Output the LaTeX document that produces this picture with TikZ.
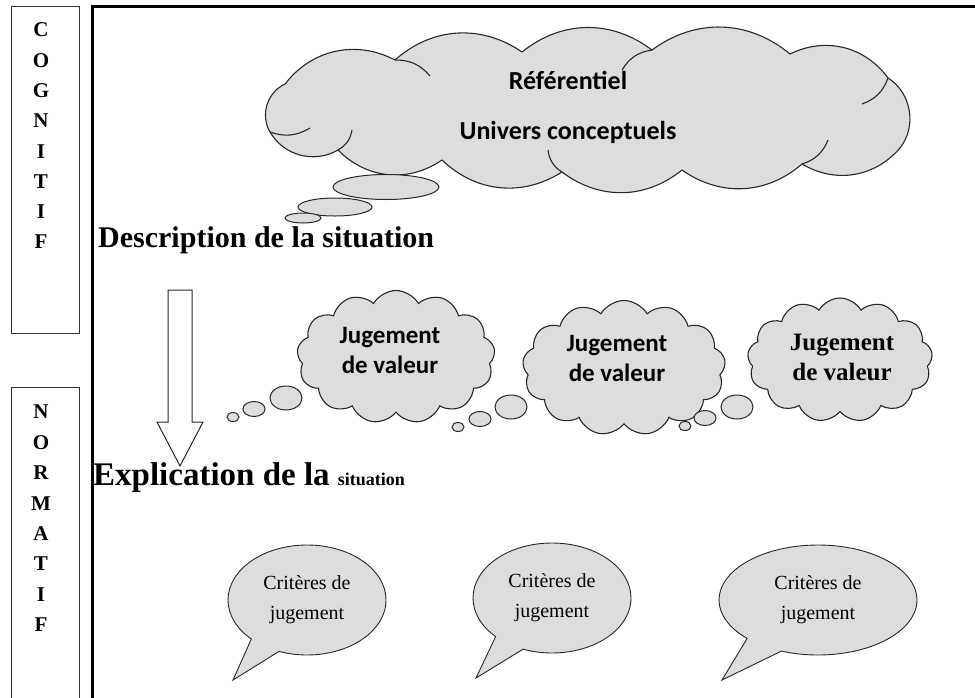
\documentclass[tikz,border=0pt]{standalone}
\usepackage{fontspec}
\setmainfont{Liberation Serif}
\newfontfamily\calfont{Carlito}
\usetikzlibrary{shapes.symbols,shapes.callouts,shapes.geometric}
\definecolor{cloudfill}{RGB}{221,221,221}
\definecolor{edgecol}{RGB}{40,40,40}
\begin{document}
\begin{tikzpicture}[x=1pt,y=-1pt,
  cloudshape/.style={cloud, draw=edgecol, fill=cloudfill, line width=1.1pt, cloud ignores aspect, inner sep=0pt},
  cloudpath/.style={draw=edgecol, fill=cloudfill, line width=1.1pt, line join=round},
  innerarc/.style={draw=edgecol, line width=1.1pt},
  bubble/.style={ellipse, draw=edgecol, fill=cloudfill, line width=1pt, inner sep=0pt},
  callbox/.style={ellipse callout, draw=edgecol, fill=cloudfill, line width=0.9pt, minimum width=158pt, minimum height=110pt, callout pointer arc=24, align=center, font=\fontsize{20}{30}\selectfont, text=black},
  letter/.style={font=\bfseries\fontsize{21}{21}\selectfont, inner sep=0pt},
  sidebox/.style={draw=black!80, line width=1pt, inner sep=0pt},
  jug/.style={font=\calfont\bfseries\fontsize{25}{30}\selectfont, align=center},
  jugserif/.style={font=\bfseries\fontsize{25}{30}\selectfont, align=center},
  reftext/.style={font=\calfont\bfseries\fontsize{26}{26}\selectfont},
  heading/.style={font=\bfseries\fontsize{30}{30}\selectfont, anchor=west, inner sep=0pt},
]
\useasboundingbox (0,0) rectangle (975,697);
\fill[white] (0,0) rectangle (975,697);

% side boxes
\node[sidebox, minimum width=68pt, minimum height=327pt, anchor=north west] (cogbox) at (11,6) {};
\node[sidebox, minimum width=68pt, minimum height=320pt, anchor=north west] (normbox) at (11,387) {};
\foreach \l [count=\i] in {C,O,G,N,I,T,I,F}
  \node[letter] (cog\i) at (41,{30+30.3*(\i-1)}) {\l};
\foreach \l [count=\i] in {N,O,R,M,A,T,I,F}
  \node[letter] (norm\i) at (41,{412+30.4*(\i-1)}) {\l};

% main frame
\draw[line width=3pt] (92,700) -- (92,6) -- (980,6);

% top cloud (custom outline)
\coordinate (J1) at (270,132);
\coordinate (J2) at (285,84);
\coordinate (J3) at (395,60);
\coordinate (J4) at (522,52);
\coordinate (J5) at (652,50);
\coordinate (J6) at (790,54);
\coordinate (J7) at (888,78);
\coordinate (J8) at (900,148);
\coordinate (J9) at (802,164);
\coordinate (J10) at (682,170);
\coordinate (J11) at (562,172);
\coordinate (J12) at (442,160);
\coordinate (J13) at (338,150);
\path[cloudpath] (J1) to[bend left=48] (J2) to[bend left=40] (J3) to[bend left=38] (J4)
  to[bend left=38] (J5) to[bend left=38] (J6) to[bend left=40] (J7) to[bend left=48] (J8)
  to[bend left=40] (J9) to[bend left=38] (J10) to[bend left=38] (J11) to[bend left=38] (J12)
  to[bend left=40] (J13) to[bend left=45] (J1) -- cycle;
\draw[innerarc] (J1) to[bend right=25] (310,128);
\draw[innerarc] (J3) to[bend left=25] (430,76);
\draw[innerarc] (J5) to[bend right=25] (622,70);
\draw[innerarc] (J7) to[bend left=25] (862,104);
\draw[innerarc] (J9) to[bend right=25] (828,140);
\draw[innerarc] (J11) to[bend left=25] (548,150);
\draw[innerarc] (J13) to[bend right=25] (352,130);
\node[reftext] (reft) at (568,80) {Référentiel};
\node[reftext] (univ) at (568,132) {Univers conceptuels};
\node[bubble, minimum width=106pt, minimum height=25pt] (tb1) at (386,187) {};
\node[bubble, minimum width=74pt, minimum height=18pt] (tb2) at (335,207) {};
\node[bubble, minimum width=36pt, minimum height=10pt] (tb3) at (303,218) {};

% headings
\node[heading] (desc) at (98,240) {Description de la situation};
\node[heading, font=\bfseries\fontsize{33}{33}\selectfont] (expl) at (93,478) {Explication de la {\fontsize{18}{18}\selectfont situation}};

% block arrow
\draw[draw=edgecol, line width=1pt, fill=white] (168,290) -- (192,290) -- (192,422) -- (203,422) -- (180,466) -- (157,422) -- (168,422) -- cycle;

% middle clouds
\node[cloudshape, cloud puffs=13, cloud puff arc=120, minimum width=198pt, minimum height=133pt] (c1) at (396,357) {};
\node[jug] (j1) at (390,350) {Jugement\\de valeur};
\node[bubble, minimum width=12pt, minimum height=9pt] (c1a) at (233,417) {};
\node[bubble, minimum width=22pt, minimum height=15pt] (c1b) at (254,409) {};
\node[bubble, minimum width=32pt, minimum height=24pt] (c1c) at (286,398) {};

\node[cloudshape, cloud puffs=13, cloud puff arc=120, minimum width=203pt, minimum height=135pt] (c2) at (624,368) {};
\node[jug] (j2) at (617,358) {Jugement\\de valeur};
\node[bubble, minimum width=12pt, minimum height=9pt] (c2a) at (458,427) {};
\node[bubble, minimum width=22pt, minimum height=15pt] (c2b) at (480,419) {};
\node[bubble, minimum width=32pt, minimum height=24pt] (c2c) at (511,407) {};

\node[cloudshape, cloud puffs=13, cloud puff arc=120, minimum width=185pt, minimum height=124pt] (c3) at (840,360) {};
\node[jugserif] (j3) at (842,357) {Jugement\\de valeur};
\node[bubble, minimum width=12pt, minimum height=9pt] (c3a) at (685,426) {};
\node[bubble, minimum width=22pt, minimum height=15pt] (c3b) at (705,418) {};
\node[bubble, minimum width=32pt, minimum height=24pt] (c3c) at (737,407) {};

% speech bubbles
\coordinate (p1) at (233,680);
\coordinate (p2) at (476,678);
\coordinate (p3) at (722,680);
\node[callbox, callout absolute pointer={(p1)}] (s1) at (307,600) {Critères de\\jugement};
\node[callbox, callout absolute pointer={(p2)}] (s2) at (552,598) {Critères de\\jugement};
\node[callbox, callout absolute pointer={(p3)}, minimum width=198pt] (s3) at (818,600) {Critères de\\jugement};
\end{tikzpicture}
\end{document}
